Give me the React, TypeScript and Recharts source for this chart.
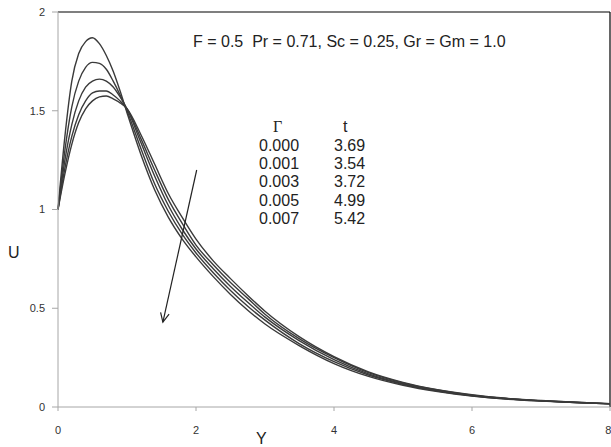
import { LineChart, Line, XAxis, YAxis, ReferenceLine } from 'recharts';

const yPos = [0, 0.1, 0.2, 0.3, 0.4, 0.5, 0.6, 0.7, 0.8, 0.9, 1.0, 1.2, 1.4, 1.6, 1.8, 2.0, 2.25, 2.5, 2.75, 3.0, 3.5, 4.0, 4.5, 5.0, 5.5, 6.0, 6.5, 7.0, 7.5, 8.0];

const u000 = [1, 1.37, 1.65, 1.79, 1.85, 1.87, 1.84, 1.78, 1.7, 1.6, 1.49, 1.28, 1.1, 0.96, 0.85, 0.76, 0.66, 0.57, 0.49, 0.42, 0.31, 0.22, 0.155, 0.11, 0.078, 0.055, 0.04, 0.03, 0.022, 0.016];
const u001 = [1, 1.3, 1.52, 1.65, 1.72, 1.745, 1.74, 1.71, 1.65, 1.58, 1.5, 1.31, 1.13, 0.99, 0.875, 0.78, 0.68, 0.59, 0.51, 0.44, 0.32, 0.23, 0.162, 0.115, 0.081, 0.057, 0.041, 0.031, 0.023, 0.016];
const u003 = [1, 1.25, 1.43, 1.55, 1.62, 1.65, 1.66, 1.65, 1.62, 1.57, 1.51, 1.34, 1.17, 1.02, 0.9, 0.8, 0.7, 0.61, 0.53, 0.455, 0.335, 0.24, 0.168, 0.118, 0.083, 0.058, 0.042, 0.031, 0.023, 0.016];
const u005 = [1, 1.21, 1.37, 1.48, 1.55, 1.59, 1.6, 1.6, 1.58, 1.55, 1.51, 1.36, 1.2, 1.05, 0.93, 0.82, 0.72, 0.63, 0.55, 0.47, 0.345, 0.25, 0.174, 0.122, 0.086, 0.06, 0.043, 0.032, 0.024, 0.017];
const u007 = [1, 1.18, 1.33, 1.44, 1.51, 1.55, 1.57, 1.575, 1.56, 1.54, 1.51, 1.38, 1.23, 1.08, 0.96, 0.85, 0.74, 0.65, 0.565, 0.485, 0.355, 0.255, 0.178, 0.125, 0.088, 0.062, 0.044, 0.033, 0.024, 0.017];

const series = [
  { key: 'g000', values: u000 },
  { key: 'g001', values: u001 },
  { key: 'g003', values: u003 },
  { key: 'g005', values: u005 },
  { key: 'g007', values: u007 },
];

const gammaLabels = ['0.000', '0.001', '0.003', '0.005', '0.007'];
const tLabels = ['3.69', '3.54', '3.72', '4.99', '5.42'];
const xTicks = [0, 2, 4, 6, 8];
const yTicks = [0, 0.5, 1, 1.5, 2];

const data = yPos.map((y, i) => {
  const row: Record<string, number> = { y };
  series.forEach((s) => {
    row[s.key] = s.values[i];
  });
  return row;
});

const font = '"Liberation Sans", Arial, sans-serif';
const tickStyle = { fontSize: 11, fill: '#333', fontFamily: font };

function Arrow(props: any) {
  const { x1, y1, x2, y2 } = props;
  const ang = Math.atan2(y2 - y1, x2 - x1);
  const len = 10;
  const spread = 0.45;
  const ax = x2 - len * Math.cos(ang - spread);
  const ay = y2 - len * Math.sin(ang - spread);
  const bx = x2 - len * Math.cos(ang + spread);
  const by = y2 - len * Math.sin(ang + spread);
  return (
    <g stroke="#222" strokeWidth={1.2} fill="none">
      <line x1={x1} y1={y1} x2={x2} y2={y2} />
      <polyline points={`${ax},${ay} ${x2},${y2} ${bx},${by}`} />
    </g>
  );
}

const txt = { position: 'absolute' as const, fontSize: 16, color: '#222', lineHeight: '18px' };

export default function App() {
  return (
    <div style={{ position: 'relative', width: 611, height: 447, background: '#fff', fontFamily: font }}>
      <style>{'body{margin:0}'}</style>
      <LineChart width={611} height={447} data={data} margin={{ top: 12, right: 1, bottom: 0, left: 0 }}>
        <XAxis
          dataKey="y"
          type="number"
          domain={[0, 8]}
          ticks={xTicks}
          stroke="#a6a6a6"
          tickSize={4}
          tickMargin={15}
          height={40}
          tick={tickStyle}
        />
        <YAxis
          type="number"
          domain={[0, 2]}
          ticks={yTicks}
          stroke="#a6a6a6"
          tickSize={6}
          tickMargin={7}
          width={58}
          tick={tickStyle}
        />
        <ReferenceLine y={2} stroke="#000" strokeWidth={1.2} />
        <ReferenceLine x={8} stroke="#000" strokeWidth={1.2} />
        {series.map((s) => (
          <Line
            key={s.key}
            dataKey={s.key}
            type="monotone"
            stroke="#3a3a3a"
            strokeWidth={1.4}
            dot={false}
            isAnimationActive={false}
          />
        ))}
        <ReferenceLine
          segment={[
            { x: 2.01, y: 1.2 },
            { x: 1.52, y: 0.43 },
          ]}
          shape={Arrow}
        />
      </LineChart>
      <div style={{ ...txt, left: 193, top: 33, whiteSpace: 'pre' }}>
        F = 0.5  Pr = 0.71, Sc = 0.25, Gr = Gm = 1.0
      </div>
      <div style={{ ...txt, left: 273, top: 118, fontFamily: '"Liberation Serif", serif' }}>Γ</div>
      <div style={{ ...txt, left: 343, top: 118 }}>t</div>
      {gammaLabels.map((g, i) => (
        <div key={g} style={{ ...txt, left: 259, top: 137 + i * 18.2 }}>
          {g}
        </div>
      ))}
      {tLabels.map((t, i) => (
        <div key={t} style={{ ...txt, left: 334, top: 137 + i * 18.2 }}>
          {t}
        </div>
      ))}
      <div style={{ ...txt, left: 8, top: 244 }}>U</div>
      <div style={{ ...txt, left: 256, top: 430 }}>Y</div>
    </div>
  );
}
